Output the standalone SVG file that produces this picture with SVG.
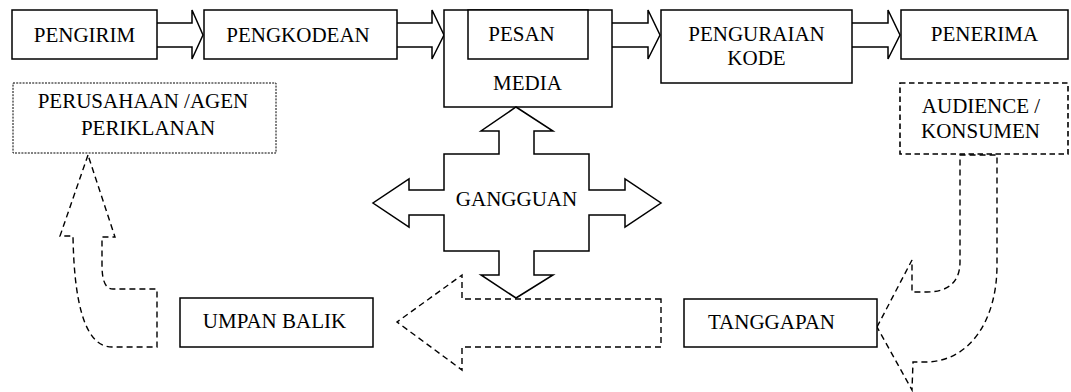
<svg xmlns="http://www.w3.org/2000/svg" width="1071" height="392" viewBox="0 0 1071 392">
<style>
.box{fill:#fff;stroke:#000;stroke-width:1.5}
.dot{fill:#fff;stroke:#000;stroke-width:1;stroke-dasharray:2 1.2}
.dash{fill:#fff;stroke:#000;stroke-width:1.6;stroke-dasharray:5.5 3.5}
.darr{fill:none;stroke:#000;stroke-width:1.4;stroke-dasharray:6 4;stroke-linejoin:miter}
.arr{fill:#fff;stroke:#000;stroke-width:1.5;stroke-linejoin:miter}
.t{font-family:'Liberation Serif','Times New Roman',serif;font-size:21px;fill:#000;text-anchor:middle}
</style>
<rect width="1071" height="392" fill="#fff"/>
<g id="connectors">
<path class="arr" d="M157,23 L192,23 L192,10 L203,35 L192,59 L192,47 L157,47"/>
<path class="arr" d="M397,23 L432,23 L432,10 L444,35 L432,59 L432,47 L397,47"/>
<path class="arr" d="M612,23 L648,23 L648,10 L660,35 L648,59 L648,47 L612,47"/>
<path class="arr" d="M852,23 L888,23 L888,10 L900,35 L888,59 L888,47 L852,47"/>
<path class="darr" d="M88,155 L60,236 L73,236 C74,300 84,347 112,347 L157,347 L157,289 L113,289 C105,289 102,280 102,265 L102,237 L115,237 Z"/>
<path class="darr" d="M661,299 L462,299 L462,275 L397,322 L462,370 L462,347 L661,347 Z"/>
<path class="darr" d="M877,327 L912,260 L912,292 L927,292 C948,292 960,282 960,262 L960,155 L997,155 L997,265 C997,320 970,362 925,362 L913,362 L912,390 Z"/>
</g>
<g id="pengirim"><rect class="box" x="12" y="10" width="145" height="49"/><text class="t" x="84.5" y="42">PENGIRIM</text></g>
<g id="pengkodean"><rect class="box" x="204" y="10" width="193" height="49"/><text class="t" x="298" y="42">PENGKODEAN</text></g>
<g id="media"><rect class="box" x="444" y="10" width="168" height="97"/><text class="t" x="527.5" y="90">MEDIA</text></g>
<g id="pesan"><rect class="box" x="468" y="10" width="120" height="49"/><text class="t" x="521.5" y="41">PESAN</text></g>
<g id="penguraian"><rect class="box" x="661" y="10" width="191" height="73"/><text class="t" x="756.5" y="41">PENGURAIAN</text><text class="t" x="756.5" y="65">KODE</text></g>
<g id="penerima"><rect class="box" x="901" y="10" width="167" height="49"/><text class="t" x="984.5" y="41">PENERIMA</text></g>
<g id="perusahaan"><rect class="dot" x="13" y="83" width="263" height="70"/><text class="t" x="143" y="108">PERUSAHAAN /AGEN</text><text class="t" x="148" y="135">PERIKLANAN</text></g>
<g id="audience"><rect class="dash" x="900" y="83" width="168" height="71"/><text class="t" x="981" y="113">AUDIENCE /</text><text class="t" x="980.5" y="138">KONSUMEN</text></g>
<g id="gangguan"><path class="arr" d="M516,107 L553,131 L534,131 L534,154 L589,154 L589,190 L625,190 L625,179 L661,203 L625,227 L625,215 L589,215 L589,251 L534,251 L534,275 L553,275 L516,298 L481,275 L499,275 L499,251 L444,251 L444,215 L409,215 L409,227 L373,203 L409,179 L409,190 L444,190 L444,154 L499,154 L499,131 L481,131 Z"/><text class="t" x="516.5" y="206">GANGGUAN</text></g>
<g id="umpan-balik"><rect class="box" x="180" y="298" width="193" height="49"/><text class="t" x="274.5" y="328">UMPAN BALIK</text></g>
<g id="tanggapan"><rect class="box" x="684" y="299" width="193" height="48"/><text class="t" x="771.5" y="329">TANGGAPAN</text></g>
</svg>
